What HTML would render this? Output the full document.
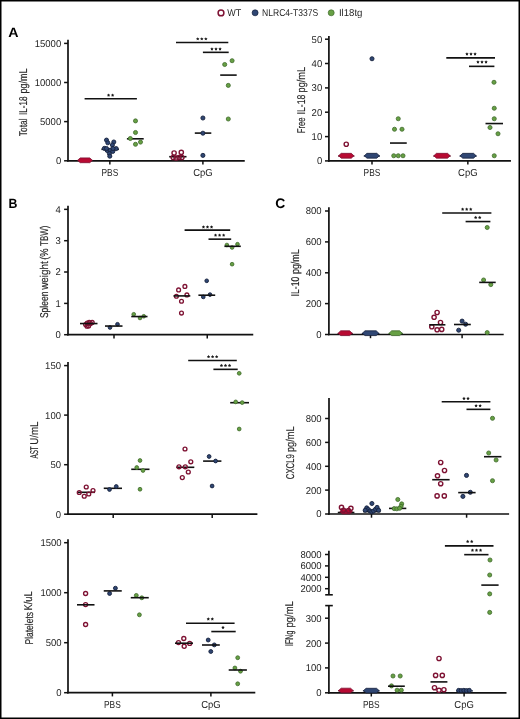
<!DOCTYPE html>
<html><head><meta charset="utf-8"><style>
html,body{margin:0;padding:0;background:#fff;}
svg{display:block;font-family:'Liberation Sans', sans-serif;text-rendering:geometricPrecision;filter:blur(0.3px);}
</style></head><body>
<svg width="520" height="719" viewBox="0 0 520 719">
<rect width="520" height="719" fill="#fff"/>
<line x1="68.00" y1="39.70" x2="68.00" y2="161.60" stroke="#111111" stroke-width="1.7" stroke-linecap="butt"/>
<line x1="67.15" y1="160.80" x2="244.75" y2="160.80" stroke="#111111" stroke-width="1.7" stroke-linecap="butt"/>
<line x1="64.10" y1="43.40" x2="68.00" y2="43.40" stroke="#111111" stroke-width="1.5" stroke-linecap="butt"/>
<text x="61.20" y="46.80" font-size="9.9" text-anchor="end" fill="#262626" textLength="26.5" lengthAdjust="spacingAndGlyphs">15000</text>
<line x1="64.10" y1="82.50" x2="68.00" y2="82.50" stroke="#111111" stroke-width="1.5" stroke-linecap="butt"/>
<text x="61.20" y="85.90" font-size="9.9" text-anchor="end" fill="#262626" textLength="26.5" lengthAdjust="spacingAndGlyphs">10000</text>
<line x1="64.10" y1="121.60" x2="68.00" y2="121.60" stroke="#111111" stroke-width="1.5" stroke-linecap="butt"/>
<text x="61.20" y="125.00" font-size="9.9" text-anchor="end" fill="#262626" textLength="21.2" lengthAdjust="spacingAndGlyphs">5000</text>
<line x1="64.10" y1="160.80" x2="68.00" y2="160.80" stroke="#111111" stroke-width="1.5" stroke-linecap="butt"/>
<text x="61.20" y="164.20" font-size="9.9" text-anchor="end" fill="#262626" textLength="5.3" lengthAdjust="spacingAndGlyphs">0</text>
<line x1="109.85" y1="160.80" x2="109.85" y2="164.50" stroke="#111111" stroke-width="1.5" stroke-linecap="butt"/>
<line x1="202.90" y1="160.80" x2="202.90" y2="164.50" stroke="#111111" stroke-width="1.5" stroke-linecap="butt"/>
<text x="109.85" y="176.20" font-size="10.2" text-anchor="middle" fill="#262626" textLength="16.8" lengthAdjust="spacingAndGlyphs">PBS</text>
<text x="202.90" y="176.20" font-size="10.2" text-anchor="middle" fill="#262626" textLength="19.5" lengthAdjust="spacingAndGlyphs">CpG</text>
<text x="27.40" y="136.18" font-size="11.3" text-anchor="start" fill="#262626" stroke="#262626" stroke-width="0.15" textLength="17.71" lengthAdjust="spacingAndGlyphs" transform="rotate(-90 27.40 136.18)">Total</text>
<text x="27.40" y="115.05" font-size="11.3" text-anchor="start" fill="#262626" stroke="#262626" stroke-width="0.15" textLength="18.61" lengthAdjust="spacingAndGlyphs" transform="rotate(-90 27.40 115.05)">IL-18</text>
<text x="27.40" y="93.38" font-size="11.3" text-anchor="start" fill="#262626" stroke="#262626" stroke-width="0.15" textLength="24.87" lengthAdjust="spacingAndGlyphs" transform="rotate(-90 27.40 93.38)">pg/mL</text>
<line x1="101.40" y1="149.30" x2="118.90" y2="149.30" stroke="#111111" stroke-width="1.6" stroke-linecap="butt"/>
<line x1="126.90" y1="138.80" x2="143.70" y2="138.80" stroke="#111111" stroke-width="1.6" stroke-linecap="butt"/>
<line x1="169.20" y1="156.70" x2="186.50" y2="156.70" stroke="#111111" stroke-width="1.6" stroke-linecap="butt"/>
<line x1="194.80" y1="133.10" x2="211.30" y2="133.10" stroke="#111111" stroke-width="1.6" stroke-linecap="butt"/>
<line x1="220.20" y1="75.10" x2="236.70" y2="75.10" stroke="#111111" stroke-width="1.6" stroke-linecap="butt"/>
<polygon points="77.60,160.30 80.20,157.90 89.80,157.90 92.40,160.30 89.80,162.70 80.20,162.70" fill="#b80a32" stroke="#7e1233" stroke-width="0.8" stroke-linejoin="round"/>
<circle cx="106.50" cy="140.10" r="2.05" fill="#2f4673" stroke="#16213c" stroke-width="0.9"/>
<circle cx="107.80" cy="142.80" r="2.05" fill="#2f4673" stroke="#16213c" stroke-width="0.9"/>
<circle cx="113.80" cy="142.00" r="2.05" fill="#2f4673" stroke="#16213c" stroke-width="0.9"/>
<circle cx="112.40" cy="145.00" r="2.05" fill="#2f4673" stroke="#16213c" stroke-width="0.9"/>
<circle cx="104.40" cy="148.40" r="2.05" fill="#2f4673" stroke="#16213c" stroke-width="0.9"/>
<circle cx="116.20" cy="148.60" r="2.05" fill="#2f4673" stroke="#16213c" stroke-width="0.9"/>
<circle cx="107.20" cy="150.50" r="2.05" fill="#2f4673" stroke="#16213c" stroke-width="0.9"/>
<circle cx="110.20" cy="150.20" r="2.05" fill="#2f4673" stroke="#16213c" stroke-width="0.9"/>
<circle cx="112.80" cy="151.40" r="2.05" fill="#2f4673" stroke="#16213c" stroke-width="0.9"/>
<circle cx="109.40" cy="153.60" r="2.05" fill="#2f4673" stroke="#16213c" stroke-width="0.9"/>
<circle cx="109.80" cy="156.20" r="2.05" fill="#2f4673" stroke="#16213c" stroke-width="0.9"/>
<circle cx="106.50" cy="148.50" r="2.05" fill="#2f4673" stroke="#16213c" stroke-width="0.9"/>
<circle cx="113.00" cy="148.50" r="2.05" fill="#2f4673" stroke="#16213c" stroke-width="0.9"/>
<circle cx="135.50" cy="120.90" r="2.05" fill="#67a044" stroke="#3f6a2c" stroke-width="0.8"/>
<circle cx="135.50" cy="132.50" r="2.05" fill="#67a044" stroke="#3f6a2c" stroke-width="0.8"/>
<circle cx="130.30" cy="138.50" r="2.05" fill="#67a044" stroke="#3f6a2c" stroke-width="0.8"/>
<circle cx="140.50" cy="142.10" r="2.05" fill="#67a044" stroke="#3f6a2c" stroke-width="0.8"/>
<circle cx="135.50" cy="144.30" r="2.05" fill="#67a044" stroke="#3f6a2c" stroke-width="0.8"/>
<circle cx="174.10" cy="153.00" r="2.12" fill="none" stroke="#7e1233" stroke-width="1.40"/>
<circle cx="181.30" cy="152.40" r="2.12" fill="none" stroke="#7e1233" stroke-width="1.40"/>
<circle cx="173.20" cy="157.50" r="2.12" fill="none" stroke="#7e1233" stroke-width="1.40"/>
<circle cx="176.10" cy="158.00" r="2.12" fill="none" stroke="#7e1233" stroke-width="1.40"/>
<circle cx="179.00" cy="157.50" r="2.12" fill="none" stroke="#7e1233" stroke-width="1.40"/>
<circle cx="181.90" cy="157.50" r="2.12" fill="none" stroke="#7e1233" stroke-width="1.40"/>
<circle cx="202.90" cy="118.00" r="2.05" fill="#2f4673" stroke="#16213c" stroke-width="0.9"/>
<circle cx="202.90" cy="133.20" r="2.05" fill="#2f4673" stroke="#16213c" stroke-width="0.9"/>
<circle cx="202.90" cy="155.40" r="2.05" fill="#2f4673" stroke="#16213c" stroke-width="0.9"/>
<circle cx="232.10" cy="60.70" r="2.05" fill="#67a044" stroke="#3f6a2c" stroke-width="0.8"/>
<circle cx="224.70" cy="64.50" r="2.05" fill="#67a044" stroke="#3f6a2c" stroke-width="0.8"/>
<circle cx="228.30" cy="85.40" r="2.05" fill="#67a044" stroke="#3f6a2c" stroke-width="0.8"/>
<circle cx="228.30" cy="119.00" r="2.05" fill="#67a044" stroke="#3f6a2c" stroke-width="0.8"/>
<line x1="84.60" y1="98.75" x2="136.90" y2="98.75" stroke="#111111" stroke-width="1.6" stroke-linecap="butt"/>
<polygon points="108.57,93.45 109.13,94.43 110.24,94.66 109.48,95.49 109.60,96.62 108.57,96.15 107.55,96.62 107.67,95.49 106.91,94.66 108.02,94.43" fill="#1a1a1a"/>
<polygon points="112.62,93.45 113.18,94.43 114.29,94.66 113.53,95.49 113.65,96.62 112.62,96.15 111.60,96.62 111.72,95.49 110.96,94.66 112.07,94.43" fill="#1a1a1a"/>
<line x1="176.00" y1="42.45" x2="228.30" y2="42.45" stroke="#111111" stroke-width="1.6" stroke-linecap="butt"/>
<polygon points="197.75,37.15 198.31,38.13 199.41,38.36 198.65,39.19 198.78,40.32 197.75,39.85 196.72,40.32 196.85,39.19 196.09,38.36 197.19,38.13" fill="#1a1a1a"/>
<polygon points="201.80,37.15 202.36,38.13 203.46,38.36 202.70,39.19 202.83,40.32 201.80,39.85 200.77,40.32 200.90,39.19 200.14,38.36 201.24,38.13" fill="#1a1a1a"/>
<polygon points="205.85,37.15 206.41,38.13 207.51,38.36 206.75,39.19 206.88,40.32 205.85,39.85 204.82,40.32 204.95,39.19 204.19,38.36 205.29,38.13" fill="#1a1a1a"/>
<line x1="202.90" y1="52.35" x2="228.70" y2="52.35" stroke="#111111" stroke-width="1.6" stroke-linecap="butt"/>
<polygon points="211.95,47.25 212.51,48.23 213.61,48.46 212.85,49.29 212.98,50.42 211.95,49.95 210.92,50.42 211.05,49.29 210.29,48.46 211.39,48.23" fill="#1a1a1a"/>
<polygon points="216.00,47.25 216.56,48.23 217.66,48.46 216.90,49.29 217.03,50.42 216.00,49.95 214.97,50.42 215.10,49.29 214.34,48.46 215.44,48.23" fill="#1a1a1a"/>
<polygon points="220.05,47.25 220.61,48.23 221.71,48.46 220.95,49.29 221.08,50.42 220.05,49.95 219.02,50.42 219.15,49.29 218.39,48.46 219.49,48.23" fill="#1a1a1a"/>
<line x1="328.90" y1="36.10" x2="328.90" y2="161.70" stroke="#111111" stroke-width="1.7" stroke-linecap="butt"/>
<line x1="328.05" y1="160.90" x2="510.95" y2="160.90" stroke="#111111" stroke-width="1.7" stroke-linecap="butt"/>
<line x1="325.00" y1="39.20" x2="328.90" y2="39.20" stroke="#111111" stroke-width="1.5" stroke-linecap="butt"/>
<text x="322.20" y="42.60" font-size="9.9" text-anchor="end" fill="#262626" textLength="10.6" lengthAdjust="spacingAndGlyphs">50</text>
<line x1="325.00" y1="63.50" x2="328.90" y2="63.50" stroke="#111111" stroke-width="1.5" stroke-linecap="butt"/>
<text x="322.20" y="66.90" font-size="9.9" text-anchor="end" fill="#262626" textLength="10.6" lengthAdjust="spacingAndGlyphs">40</text>
<line x1="325.00" y1="87.90" x2="328.90" y2="87.90" stroke="#111111" stroke-width="1.5" stroke-linecap="butt"/>
<text x="322.20" y="91.30" font-size="9.9" text-anchor="end" fill="#262626" textLength="10.6" lengthAdjust="spacingAndGlyphs">30</text>
<line x1="325.00" y1="112.20" x2="328.90" y2="112.20" stroke="#111111" stroke-width="1.5" stroke-linecap="butt"/>
<text x="322.20" y="115.60" font-size="9.9" text-anchor="end" fill="#262626" textLength="10.6" lengthAdjust="spacingAndGlyphs">20</text>
<line x1="325.00" y1="136.60" x2="328.90" y2="136.60" stroke="#111111" stroke-width="1.5" stroke-linecap="butt"/>
<text x="322.20" y="140.00" font-size="9.9" text-anchor="end" fill="#262626" textLength="10.6" lengthAdjust="spacingAndGlyphs">10</text>
<line x1="325.00" y1="160.90" x2="328.90" y2="160.90" stroke="#111111" stroke-width="1.5" stroke-linecap="butt"/>
<text x="322.20" y="164.30" font-size="9.9" text-anchor="end" fill="#262626" textLength="5.3" lengthAdjust="spacingAndGlyphs">0</text>
<line x1="372.00" y1="160.90" x2="372.00" y2="164.60" stroke="#111111" stroke-width="1.5" stroke-linecap="butt"/>
<line x1="467.85" y1="160.90" x2="467.85" y2="164.60" stroke="#111111" stroke-width="1.5" stroke-linecap="butt"/>
<text x="372.00" y="176.20" font-size="10.2" text-anchor="middle" fill="#262626" textLength="16.8" lengthAdjust="spacingAndGlyphs">PBS</text>
<text x="467.85" y="176.20" font-size="10.2" text-anchor="middle" fill="#262626" textLength="19.5" lengthAdjust="spacingAndGlyphs">CpG</text>
<text x="304.80" y="133.23" font-size="11.3" text-anchor="start" fill="#262626" stroke="#262626" stroke-width="0.15" textLength="15.77" lengthAdjust="spacingAndGlyphs" transform="rotate(-90 304.80 133.23)">Free</text>
<text x="304.80" y="114.51" font-size="11.3" text-anchor="start" fill="#262626" stroke="#262626" stroke-width="0.15" textLength="19.99" lengthAdjust="spacingAndGlyphs" transform="rotate(-90 304.80 114.51)">IL-18</text>
<text x="304.80" y="92.50" font-size="11.3" text-anchor="start" fill="#262626" stroke="#262626" stroke-width="0.15" textLength="25.7" lengthAdjust="spacingAndGlyphs" transform="rotate(-90 304.80 92.50)">pg/mL</text>
<line x1="338.00" y1="156.05" x2="354.50" y2="156.05" stroke="#5a0a20" stroke-width="1.2" stroke-linecap="butt"/>
<line x1="363.75" y1="156.05" x2="380.00" y2="156.05" stroke="#15203f" stroke-width="1.2" stroke-linecap="butt"/>
<line x1="390.00" y1="143.05" x2="406.75" y2="143.05" stroke="#111111" stroke-width="1.6" stroke-linecap="butt"/>
<line x1="433.25" y1="156.05" x2="450.75" y2="156.05" stroke="#5a0a20" stroke-width="1.2" stroke-linecap="butt"/>
<line x1="459.50" y1="156.05" x2="476.75" y2="156.05" stroke="#15203f" stroke-width="1.2" stroke-linecap="butt"/>
<line x1="485.50" y1="123.55" x2="503.00" y2="123.55" stroke="#111111" stroke-width="1.6" stroke-linecap="butt"/>
<circle cx="346.25" cy="144.25" r="2.12" fill="none" stroke="#7e1233" stroke-width="1.40"/>
<polygon points="338.60,155.75 341.20,153.35 351.30,153.35 353.90,155.75 351.30,158.15 341.20,158.15" fill="#b80a32" stroke="#7e1233" stroke-width="0.8" stroke-linejoin="round"/>
<circle cx="372.00" cy="58.75" r="2.05" fill="#2f4673" stroke="#16213c" stroke-width="0.9"/>
<polygon points="364.35,155.75 366.95,153.35 376.80,153.35 379.40,155.75 376.80,158.15 366.95,158.15" fill="#2f4673" stroke="#16213c" stroke-width="0.8" stroke-linejoin="round"/>
<circle cx="398.25" cy="118.75" r="2.05" fill="#67a044" stroke="#3f6a2c" stroke-width="0.8"/>
<circle cx="394.50" cy="129.25" r="2.05" fill="#67a044" stroke="#3f6a2c" stroke-width="0.8"/>
<circle cx="402.00" cy="129.25" r="2.05" fill="#67a044" stroke="#3f6a2c" stroke-width="0.8"/>
<circle cx="393.75" cy="155.75" r="2.05" fill="#67a044" stroke="#3f6a2c" stroke-width="0.8"/>
<circle cx="398.25" cy="155.75" r="2.05" fill="#67a044" stroke="#3f6a2c" stroke-width="0.8"/>
<circle cx="403.00" cy="155.75" r="2.05" fill="#67a044" stroke="#3f6a2c" stroke-width="0.8"/>
<polygon points="433.85,155.75 436.45,153.35 447.55,153.35 450.15,155.75 447.55,158.15 436.45,158.15" fill="#b80a32" stroke="#7e1233" stroke-width="0.8" stroke-linejoin="round"/>
<polygon points="460.10,155.75 462.70,153.35 473.55,153.35 476.15,155.75 473.55,158.15 462.70,158.15" fill="#2f4673" stroke="#16213c" stroke-width="0.8" stroke-linejoin="round"/>
<circle cx="494.00" cy="82.30" r="2.05" fill="#67a044" stroke="#3f6a2c" stroke-width="0.8"/>
<circle cx="494.25" cy="108.25" r="2.05" fill="#67a044" stroke="#3f6a2c" stroke-width="0.8"/>
<circle cx="494.25" cy="118.75" r="2.05" fill="#67a044" stroke="#3f6a2c" stroke-width="0.8"/>
<circle cx="490.00" cy="127.50" r="2.05" fill="#67a044" stroke="#3f6a2c" stroke-width="0.8"/>
<circle cx="498.00" cy="133.75" r="2.05" fill="#67a044" stroke="#3f6a2c" stroke-width="0.8"/>
<circle cx="494.25" cy="155.75" r="2.05" fill="#67a044" stroke="#3f6a2c" stroke-width="0.8"/>
<line x1="446.30" y1="57.85" x2="495.00" y2="57.85" stroke="#111111" stroke-width="1.6" stroke-linecap="butt"/>
<polygon points="466.95,52.25 467.51,53.23 468.61,53.46 467.85,54.29 467.98,55.42 466.95,54.95 465.92,55.42 466.05,54.29 465.29,53.46 466.39,53.23" fill="#1a1a1a"/>
<polygon points="471.00,52.25 471.56,53.23 472.66,53.46 471.90,54.29 472.03,55.42 471.00,54.95 469.97,55.42 470.10,54.29 469.34,53.46 470.44,53.23" fill="#1a1a1a"/>
<polygon points="475.05,52.25 475.61,53.23 476.71,53.46 475.95,54.29 476.08,55.42 475.05,54.95 474.02,55.42 474.15,54.29 473.39,53.46 474.49,53.23" fill="#1a1a1a"/>
<line x1="469.00" y1="66.35" x2="494.40" y2="66.35" stroke="#111111" stroke-width="1.6" stroke-linecap="butt"/>
<polygon points="477.95,60.25 478.51,61.23 479.61,61.46 478.85,62.29 478.98,63.42 477.95,62.95 476.92,63.42 477.05,62.29 476.29,61.46 477.39,61.23" fill="#1a1a1a"/>
<polygon points="482.00,60.25 482.56,61.23 483.66,61.46 482.90,62.29 483.03,63.42 482.00,62.95 480.97,63.42 481.10,62.29 480.34,61.46 481.44,61.23" fill="#1a1a1a"/>
<polygon points="486.05,60.25 486.61,61.23 487.71,61.46 486.95,62.29 487.08,63.42 486.05,62.95 485.02,63.42 485.15,62.29 484.39,61.46 485.49,61.23" fill="#1a1a1a"/>
<line x1="68.00" y1="205.80" x2="68.00" y2="335.50" stroke="#111111" stroke-width="1.7" stroke-linecap="butt"/>
<line x1="67.15" y1="334.70" x2="253.25" y2="334.70" stroke="#111111" stroke-width="1.7" stroke-linecap="butt"/>
<line x1="64.10" y1="209.35" x2="68.00" y2="209.35" stroke="#111111" stroke-width="1.5" stroke-linecap="butt"/>
<text x="60.80" y="212.75" font-size="9.9" text-anchor="end" fill="#262626" textLength="5.3" lengthAdjust="spacingAndGlyphs">4</text>
<line x1="64.10" y1="240.70" x2="68.00" y2="240.70" stroke="#111111" stroke-width="1.5" stroke-linecap="butt"/>
<text x="60.80" y="244.10" font-size="9.9" text-anchor="end" fill="#262626" textLength="5.3" lengthAdjust="spacingAndGlyphs">3</text>
<line x1="64.10" y1="272.00" x2="68.00" y2="272.00" stroke="#111111" stroke-width="1.5" stroke-linecap="butt"/>
<text x="60.80" y="275.40" font-size="9.9" text-anchor="end" fill="#262626" textLength="5.3" lengthAdjust="spacingAndGlyphs">2</text>
<line x1="64.10" y1="303.40" x2="68.00" y2="303.40" stroke="#111111" stroke-width="1.5" stroke-linecap="butt"/>
<text x="60.80" y="306.80" font-size="9.9" text-anchor="end" fill="#262626" textLength="5.3" lengthAdjust="spacingAndGlyphs">1</text>
<line x1="64.10" y1="334.70" x2="68.00" y2="334.70" stroke="#111111" stroke-width="1.5" stroke-linecap="butt"/>
<text x="60.80" y="338.10" font-size="9.9" text-anchor="end" fill="#262626" textLength="5.3" lengthAdjust="spacingAndGlyphs">0</text>
<line x1="114.00" y1="334.70" x2="114.00" y2="338.40" stroke="#111111" stroke-width="1.5" stroke-linecap="butt"/>
<line x1="207.25" y1="334.70" x2="207.25" y2="338.40" stroke="#111111" stroke-width="1.5" stroke-linecap="butt"/>
<text x="48.40" y="318.09" font-size="11.3" text-anchor="start" fill="#262626" stroke="#262626" stroke-width="0.15" textLength="26.54" lengthAdjust="spacingAndGlyphs" transform="rotate(-90 48.40 318.09)">Spleen</text>
<text x="48.40" y="289.79" font-size="11.3" text-anchor="start" fill="#262626" stroke="#262626" stroke-width="0.15" textLength="28.46" lengthAdjust="spacingAndGlyphs" transform="rotate(-90 48.40 289.79)">weight</text>
<text x="48.40" y="259.78" font-size="11.3" text-anchor="start" fill="#262626" stroke="#262626" stroke-width="0.15" textLength="11.52" lengthAdjust="spacingAndGlyphs" transform="rotate(-90 48.40 259.78)">(%</text>
<text x="48.40" y="245.88" font-size="11.3" text-anchor="start" fill="#262626" stroke="#262626" stroke-width="0.15" textLength="20.27" lengthAdjust="spacingAndGlyphs" transform="rotate(-90 48.40 245.88)">TBW)</text>
<circle cx="85.60" cy="324.60" r="1.91" fill="none" stroke="#7e1233" stroke-width="1.33"/>
<circle cx="87.20" cy="323.00" r="1.91" fill="none" stroke="#7e1233" stroke-width="1.33"/>
<circle cx="88.60" cy="326.00" r="1.91" fill="none" stroke="#7e1233" stroke-width="1.33"/>
<circle cx="90.60" cy="323.60" r="1.91" fill="none" stroke="#7e1233" stroke-width="1.33"/>
<circle cx="92.20" cy="322.40" r="1.91" fill="none" stroke="#7e1233" stroke-width="1.33"/>
<circle cx="89.20" cy="322.20" r="1.91" fill="none" stroke="#7e1233" stroke-width="1.33"/>
<circle cx="87.00" cy="326.20" r="1.91" fill="none" stroke="#7e1233" stroke-width="1.33"/>
<line x1="80.00" y1="323.55" x2="97.50" y2="323.55" stroke="#111111" stroke-width="1.6" stroke-linecap="butt"/>
<circle cx="110.00" cy="327.50" r="1.84" fill="#2f4673" stroke="#16213c" stroke-width="0.9"/>
<circle cx="117.50" cy="324.25" r="1.84" fill="#2f4673" stroke="#16213c" stroke-width="0.9"/>
<line x1="105.00" y1="326.05" x2="122.50" y2="326.05" stroke="#111111" stroke-width="1.6" stroke-linecap="butt"/>
<circle cx="133.75" cy="314.25" r="1.84" fill="#67a044" stroke="#3f6a2c" stroke-width="0.8"/>
<circle cx="140.00" cy="318.00" r="1.84" fill="#67a044" stroke="#3f6a2c" stroke-width="0.8"/>
<circle cx="143.75" cy="316.25" r="1.84" fill="#67a044" stroke="#3f6a2c" stroke-width="0.8"/>
<line x1="131.25" y1="316.55" x2="147.50" y2="316.55" stroke="#111111" stroke-width="1.6" stroke-linecap="butt"/>
<circle cx="184.90" cy="286.40" r="1.91" fill="none" stroke="#7e1233" stroke-width="1.33"/>
<circle cx="178.60" cy="289.90" r="1.91" fill="none" stroke="#7e1233" stroke-width="1.33"/>
<circle cx="176.40" cy="296.20" r="1.91" fill="none" stroke="#7e1233" stroke-width="1.33"/>
<circle cx="186.90" cy="294.90" r="1.91" fill="none" stroke="#7e1233" stroke-width="1.33"/>
<circle cx="181.50" cy="301.20" r="1.91" fill="none" stroke="#7e1233" stroke-width="1.33"/>
<circle cx="181.50" cy="313.10" r="1.91" fill="none" stroke="#7e1233" stroke-width="1.33"/>
<line x1="173.50" y1="295.90" x2="190.30" y2="295.90" stroke="#111111" stroke-width="1.6" stroke-linecap="butt"/>
<circle cx="206.70" cy="280.80" r="1.84" fill="#2f4673" stroke="#16213c" stroke-width="0.9"/>
<circle cx="203.30" cy="296.90" r="1.84" fill="#2f4673" stroke="#16213c" stroke-width="0.9"/>
<circle cx="210.00" cy="294.60" r="1.84" fill="#2f4673" stroke="#16213c" stroke-width="0.9"/>
<line x1="198.40" y1="295.20" x2="215.20" y2="295.20" stroke="#111111" stroke-width="1.6" stroke-linecap="butt"/>
<circle cx="226.90" cy="245.00" r="1.84" fill="#67a044" stroke="#3f6a2c" stroke-width="0.8"/>
<circle cx="232.10" cy="247.50" r="1.84" fill="#67a044" stroke="#3f6a2c" stroke-width="0.8"/>
<circle cx="237.50" cy="244.20" r="1.84" fill="#67a044" stroke="#3f6a2c" stroke-width="0.8"/>
<circle cx="232.10" cy="264.20" r="1.84" fill="#67a044" stroke="#3f6a2c" stroke-width="0.8"/>
<line x1="224.40" y1="246.30" x2="240.80" y2="246.30" stroke="#111111" stroke-width="1.6" stroke-linecap="butt"/>
<line x1="184.60" y1="230.15" x2="230.20" y2="230.15" stroke="#111111" stroke-width="1.6" stroke-linecap="butt"/>
<polygon points="203.45,225.25 204.01,226.23 205.11,226.46 204.35,227.29 204.48,228.42 203.45,227.95 202.42,228.42 202.55,227.29 201.79,226.46 202.89,226.23" fill="#1a1a1a"/>
<polygon points="207.50,225.25 208.06,226.23 209.16,226.46 208.40,227.29 208.53,228.42 207.50,227.95 206.47,228.42 206.60,227.29 205.84,226.46 206.94,226.23" fill="#1a1a1a"/>
<polygon points="211.55,225.25 212.11,226.23 213.21,226.46 212.45,227.29 212.58,228.42 211.55,227.95 210.52,228.42 210.65,227.29 209.89,226.46 210.99,226.23" fill="#1a1a1a"/>
<line x1="208.50" y1="239.15" x2="231.20" y2="239.15" stroke="#111111" stroke-width="1.6" stroke-linecap="butt"/>
<polygon points="215.55,233.45 216.11,234.43 217.21,234.66 216.45,235.49 216.58,236.62 215.55,236.15 214.52,236.62 214.65,235.49 213.89,234.66 214.99,234.43" fill="#1a1a1a"/>
<polygon points="219.60,233.45 220.16,234.43 221.26,234.66 220.50,235.49 220.63,236.62 219.60,236.15 218.57,236.62 218.70,235.49 217.94,234.66 219.04,234.43" fill="#1a1a1a"/>
<polygon points="223.65,233.45 224.21,234.43 225.31,234.66 224.55,235.49 224.68,236.62 223.65,236.15 222.62,236.62 222.75,235.49 221.99,234.66 223.09,234.43" fill="#1a1a1a"/>
<line x1="68.00" y1="362.10" x2="68.00" y2="515.00" stroke="#111111" stroke-width="1.7" stroke-linecap="butt"/>
<line x1="67.15" y1="514.20" x2="257.40" y2="514.20" stroke="#111111" stroke-width="1.7" stroke-linecap="butt"/>
<line x1="64.10" y1="365.60" x2="68.00" y2="365.60" stroke="#111111" stroke-width="1.5" stroke-linecap="butt"/>
<text x="61.00" y="369.00" font-size="9.9" text-anchor="end" fill="#262626" textLength="15.9" lengthAdjust="spacingAndGlyphs">150</text>
<line x1="64.10" y1="415.10" x2="68.00" y2="415.10" stroke="#111111" stroke-width="1.5" stroke-linecap="butt"/>
<text x="61.00" y="418.50" font-size="9.9" text-anchor="end" fill="#262626" textLength="15.9" lengthAdjust="spacingAndGlyphs">100</text>
<line x1="64.10" y1="464.70" x2="68.00" y2="464.70" stroke="#111111" stroke-width="1.5" stroke-linecap="butt"/>
<text x="61.00" y="468.10" font-size="9.9" text-anchor="end" fill="#262626" textLength="10.6" lengthAdjust="spacingAndGlyphs">50</text>
<line x1="64.10" y1="514.20" x2="68.00" y2="514.20" stroke="#111111" stroke-width="1.5" stroke-linecap="butt"/>
<text x="61.00" y="517.60" font-size="9.9" text-anchor="end" fill="#262626" textLength="5.3" lengthAdjust="spacingAndGlyphs">0</text>
<line x1="113.20" y1="514.20" x2="113.20" y2="517.90" stroke="#111111" stroke-width="1.5" stroke-linecap="butt"/>
<line x1="212.20" y1="514.20" x2="212.20" y2="517.90" stroke="#111111" stroke-width="1.5" stroke-linecap="butt"/>
<text x="37.90" y="458.51" font-size="11.3" text-anchor="start" fill="#262626" stroke="#262626" stroke-width="0.15" textLength="12.16" lengthAdjust="spacingAndGlyphs" transform="rotate(-90 37.90 458.51)">AST</text>
<text x="37.90" y="444.85" font-size="11.3" text-anchor="start" fill="#262626" stroke="#262626" stroke-width="0.15" textLength="23.38" lengthAdjust="spacingAndGlyphs" transform="rotate(-90 37.90 444.85)">U/mL</text>
<line x1="77.50" y1="492.30" x2="95.00" y2="492.30" stroke="#111111" stroke-width="1.6" stroke-linecap="butt"/>
<line x1="103.75" y1="488.30" x2="122.00" y2="488.30" stroke="#111111" stroke-width="1.6" stroke-linecap="butt"/>
<line x1="131.25" y1="469.30" x2="149.50" y2="469.30" stroke="#111111" stroke-width="1.6" stroke-linecap="butt"/>
<line x1="176.30" y1="467.30" x2="194.30" y2="467.30" stroke="#111111" stroke-width="1.6" stroke-linecap="butt"/>
<line x1="203.10" y1="461.10" x2="221.40" y2="461.10" stroke="#111111" stroke-width="1.6" stroke-linecap="butt"/>
<line x1="230.20" y1="402.70" x2="249.00" y2="402.70" stroke="#111111" stroke-width="1.6" stroke-linecap="butt"/>
<circle cx="86.25" cy="487.00" r="1.95" fill="none" stroke="#7e1233" stroke-width="1.34"/>
<circle cx="79.25" cy="492.50" r="1.95" fill="none" stroke="#7e1233" stroke-width="1.34"/>
<circle cx="84.25" cy="496.25" r="1.95" fill="none" stroke="#7e1233" stroke-width="1.34"/>
<circle cx="88.75" cy="494.00" r="1.95" fill="none" stroke="#7e1233" stroke-width="1.34"/>
<circle cx="93.00" cy="490.50" r="1.95" fill="none" stroke="#7e1233" stroke-width="1.34"/>
<circle cx="109.50" cy="489.50" r="1.89" fill="#2f4673" stroke="#16213c" stroke-width="0.9"/>
<circle cx="116.25" cy="486.50" r="1.89" fill="#2f4673" stroke="#16213c" stroke-width="0.9"/>
<circle cx="140.00" cy="460.50" r="1.89" fill="#67a044" stroke="#3f6a2c" stroke-width="0.8"/>
<circle cx="136.75" cy="467.50" r="1.89" fill="#67a044" stroke="#3f6a2c" stroke-width="0.8"/>
<circle cx="143.00" cy="470.50" r="1.89" fill="#67a044" stroke="#3f6a2c" stroke-width="0.8"/>
<circle cx="140.00" cy="489.25" r="1.89" fill="#67a044" stroke="#3f6a2c" stroke-width="0.8"/>
<circle cx="185.00" cy="449.00" r="1.95" fill="none" stroke="#7e1233" stroke-width="1.34"/>
<circle cx="190.80" cy="461.80" r="1.95" fill="none" stroke="#7e1233" stroke-width="1.34"/>
<circle cx="179.00" cy="466.80" r="1.95" fill="none" stroke="#7e1233" stroke-width="1.34"/>
<circle cx="185.30" cy="466.80" r="1.95" fill="none" stroke="#7e1233" stroke-width="1.34"/>
<circle cx="188.30" cy="472.00" r="1.95" fill="none" stroke="#7e1233" stroke-width="1.34"/>
<circle cx="182.30" cy="477.60" r="1.95" fill="none" stroke="#7e1233" stroke-width="1.34"/>
<circle cx="209.10" cy="456.50" r="1.89" fill="#2f4673" stroke="#16213c" stroke-width="0.9"/>
<circle cx="215.60" cy="461.00" r="1.89" fill="#2f4673" stroke="#16213c" stroke-width="0.9"/>
<circle cx="212.10" cy="486.00" r="1.89" fill="#2f4673" stroke="#16213c" stroke-width="0.9"/>
<circle cx="239.20" cy="373.30" r="1.89" fill="#67a044" stroke="#3f6a2c" stroke-width="0.8"/>
<circle cx="235.70" cy="401.90" r="1.89" fill="#67a044" stroke="#3f6a2c" stroke-width="0.8"/>
<circle cx="242.20" cy="402.60" r="1.89" fill="#67a044" stroke="#3f6a2c" stroke-width="0.8"/>
<circle cx="239.20" cy="429.00" r="1.89" fill="#67a044" stroke="#3f6a2c" stroke-width="0.8"/>
<line x1="188.20" y1="360.55" x2="236.80" y2="360.55" stroke="#111111" stroke-width="1.6" stroke-linecap="butt"/>
<polygon points="208.55,354.95 209.11,355.93 210.21,356.16 209.45,356.99 209.58,358.12 208.55,357.65 207.52,358.12 207.65,356.99 206.89,356.16 207.99,355.93" fill="#1a1a1a"/>
<polygon points="212.60,354.95 213.16,355.93 214.26,356.16 213.50,356.99 213.63,358.12 212.60,357.65 211.57,358.12 211.70,356.99 210.94,356.16 212.04,355.93" fill="#1a1a1a"/>
<polygon points="216.65,354.95 217.21,355.93 218.31,356.16 217.55,356.99 217.68,358.12 216.65,357.65 215.62,358.12 215.75,356.99 214.99,356.16 216.09,355.93" fill="#1a1a1a"/>
<line x1="213.40" y1="369.35" x2="237.70" y2="369.35" stroke="#111111" stroke-width="1.6" stroke-linecap="butt"/>
<polygon points="221.45,363.85 222.01,364.83 223.11,365.06 222.35,365.89 222.48,367.02 221.45,366.55 220.42,367.02 220.55,365.89 219.79,365.06 220.89,364.83" fill="#1a1a1a"/>
<polygon points="225.50,363.85 226.06,364.83 227.16,365.06 226.40,365.89 226.53,367.02 225.50,366.55 224.47,367.02 224.60,365.89 223.84,365.06 224.94,364.83" fill="#1a1a1a"/>
<polygon points="229.55,363.85 230.11,364.83 231.21,365.06 230.45,365.89 230.58,367.02 229.55,366.55 228.52,367.02 228.65,365.89 227.89,365.06 228.99,364.83" fill="#1a1a1a"/>
<line x1="68.00" y1="539.30" x2="68.00" y2="693.50" stroke="#111111" stroke-width="1.7" stroke-linecap="butt"/>
<line x1="67.15" y1="692.70" x2="255.30" y2="692.70" stroke="#111111" stroke-width="1.7" stroke-linecap="butt"/>
<line x1="64.10" y1="542.70" x2="68.00" y2="542.70" stroke="#111111" stroke-width="1.5" stroke-linecap="butt"/>
<text x="61.60" y="546.10" font-size="9.9" text-anchor="end" fill="#262626" textLength="21.2" lengthAdjust="spacingAndGlyphs">1500</text>
<line x1="64.10" y1="592.70" x2="68.00" y2="592.70" stroke="#111111" stroke-width="1.5" stroke-linecap="butt"/>
<text x="61.60" y="596.10" font-size="9.9" text-anchor="end" fill="#262626" textLength="21.2" lengthAdjust="spacingAndGlyphs">1000</text>
<line x1="64.10" y1="642.70" x2="68.00" y2="642.70" stroke="#111111" stroke-width="1.5" stroke-linecap="butt"/>
<text x="61.60" y="646.10" font-size="9.9" text-anchor="end" fill="#262626" textLength="15.9" lengthAdjust="spacingAndGlyphs">500</text>
<line x1="64.10" y1="692.70" x2="68.00" y2="692.70" stroke="#111111" stroke-width="1.5" stroke-linecap="butt"/>
<text x="61.60" y="696.10" font-size="9.9" text-anchor="end" fill="#262626" textLength="5.3" lengthAdjust="spacingAndGlyphs">0</text>
<line x1="112.40" y1="692.70" x2="112.40" y2="696.40" stroke="#111111" stroke-width="1.5" stroke-linecap="butt"/>
<line x1="210.90" y1="692.70" x2="210.90" y2="696.40" stroke="#111111" stroke-width="1.5" stroke-linecap="butt"/>
<text x="112.40" y="708.40" font-size="10.2" text-anchor="middle" fill="#262626" textLength="16.8" lengthAdjust="spacingAndGlyphs">PBS</text>
<text x="210.90" y="708.40" font-size="10.2" text-anchor="middle" fill="#262626" textLength="19.5" lengthAdjust="spacingAndGlyphs">CpG</text>
<text x="32.50" y="644.50" font-size="11.3" text-anchor="start" fill="#262626" stroke="#262626" stroke-width="0.15" textLength="32.5" lengthAdjust="spacingAndGlyphs" transform="rotate(-90 32.50 644.50)">Platelets</text>
<text x="32.50" y="610.46" font-size="11.3" text-anchor="start" fill="#262626" stroke="#262626" stroke-width="0.15" textLength="19.17" lengthAdjust="spacingAndGlyphs" transform="rotate(-90 32.50 610.46)">K/uL</text>
<circle cx="85.60" cy="593.50" r="2.01" fill="none" stroke="#7e1233" stroke-width="1.36"/>
<circle cx="85.60" cy="604.60" r="2.01" fill="none" stroke="#7e1233" stroke-width="1.36"/>
<circle cx="85.60" cy="624.50" r="2.01" fill="none" stroke="#7e1233" stroke-width="1.36"/>
<line x1="77.00" y1="604.80" x2="94.50" y2="604.80" stroke="#111111" stroke-width="1.6" stroke-linecap="butt"/>
<circle cx="109.60" cy="593.50" r="1.95" fill="#2f4673" stroke="#16213c" stroke-width="0.9"/>
<circle cx="115.40" cy="588.20" r="1.95" fill="#2f4673" stroke="#16213c" stroke-width="0.9"/>
<line x1="103.75" y1="590.90" x2="121.75" y2="590.90" stroke="#111111" stroke-width="1.6" stroke-linecap="butt"/>
<circle cx="136.30" cy="595.40" r="1.95" fill="#67a044" stroke="#3f6a2c" stroke-width="0.8"/>
<circle cx="141.80" cy="597.80" r="1.95" fill="#67a044" stroke="#3f6a2c" stroke-width="0.8"/>
<circle cx="139.40" cy="614.80" r="1.95" fill="#67a044" stroke="#3f6a2c" stroke-width="0.8"/>
<line x1="130.75" y1="597.70" x2="148.75" y2="597.70" stroke="#111111" stroke-width="1.6" stroke-linecap="butt"/>
<circle cx="183.80" cy="638.50" r="2.01" fill="none" stroke="#7e1233" stroke-width="1.36"/>
<circle cx="178.50" cy="642.60" r="2.01" fill="none" stroke="#7e1233" stroke-width="1.36"/>
<circle cx="189.70" cy="643.40" r="2.01" fill="none" stroke="#7e1233" stroke-width="1.36"/>
<circle cx="184.20" cy="646.30" r="2.01" fill="none" stroke="#7e1233" stroke-width="1.36"/>
<line x1="175.00" y1="643.20" x2="193.00" y2="643.20" stroke="#111111" stroke-width="1.6" stroke-linecap="butt"/>
<circle cx="208.20" cy="640.00" r="1.95" fill="#2f4673" stroke="#16213c" stroke-width="0.9"/>
<circle cx="214.30" cy="644.90" r="1.95" fill="#2f4673" stroke="#16213c" stroke-width="0.9"/>
<circle cx="210.80" cy="651.50" r="1.95" fill="#2f4673" stroke="#16213c" stroke-width="0.9"/>
<line x1="202.00" y1="645.00" x2="219.80" y2="645.00" stroke="#111111" stroke-width="1.6" stroke-linecap="butt"/>
<circle cx="237.70" cy="657.70" r="1.95" fill="#67a044" stroke="#3f6a2c" stroke-width="0.8"/>
<circle cx="234.90" cy="668.00" r="1.95" fill="#67a044" stroke="#3f6a2c" stroke-width="0.8"/>
<circle cx="240.50" cy="671.20" r="1.95" fill="#67a044" stroke="#3f6a2c" stroke-width="0.8"/>
<circle cx="237.70" cy="683.80" r="1.95" fill="#67a044" stroke="#3f6a2c" stroke-width="0.8"/>
<line x1="228.70" y1="670.00" x2="246.90" y2="670.00" stroke="#111111" stroke-width="1.6" stroke-linecap="butt"/>
<line x1="186.00" y1="623.25" x2="234.60" y2="623.25" stroke="#111111" stroke-width="1.6" stroke-linecap="butt"/>
<polygon points="208.28,617.25 208.83,618.23 209.94,618.46 209.18,619.29 209.30,620.42 208.28,619.95 207.25,620.42 207.37,619.29 206.61,618.46 207.72,618.23" fill="#1a1a1a"/>
<polygon points="212.33,617.25 212.88,618.23 213.99,618.46 213.23,619.29 213.35,620.42 212.33,619.95 211.30,620.42 211.42,619.29 210.66,618.46 211.77,618.23" fill="#1a1a1a"/>
<line x1="211.30" y1="631.55" x2="235.70" y2="631.55" stroke="#111111" stroke-width="1.6" stroke-linecap="butt"/>
<polygon points="223.00,625.85 223.56,626.83 224.66,627.06 223.90,627.89 224.03,629.02 223.00,628.55 221.97,629.02 222.10,627.89 221.34,627.06 222.44,626.83" fill="#1a1a1a"/>
<line x1="328.90" y1="207.30" x2="328.90" y2="335.30" stroke="#111111" stroke-width="1.7" stroke-linecap="butt"/>
<line x1="328.05" y1="334.50" x2="503.70" y2="334.50" stroke="#111111" stroke-width="1.7" stroke-linecap="butt"/>
<line x1="325.00" y1="211.00" x2="328.90" y2="211.00" stroke="#111111" stroke-width="1.5" stroke-linecap="butt"/>
<text x="321.60" y="214.40" font-size="9.9" text-anchor="end" fill="#262626" textLength="15.9" lengthAdjust="spacingAndGlyphs">800</text>
<line x1="325.00" y1="241.90" x2="328.90" y2="241.90" stroke="#111111" stroke-width="1.5" stroke-linecap="butt"/>
<text x="321.60" y="245.30" font-size="9.9" text-anchor="end" fill="#262626" textLength="15.9" lengthAdjust="spacingAndGlyphs">600</text>
<line x1="325.00" y1="272.80" x2="328.90" y2="272.80" stroke="#111111" stroke-width="1.5" stroke-linecap="butt"/>
<text x="321.60" y="276.20" font-size="9.9" text-anchor="end" fill="#262626" textLength="15.9" lengthAdjust="spacingAndGlyphs">400</text>
<line x1="325.00" y1="303.60" x2="328.90" y2="303.60" stroke="#111111" stroke-width="1.5" stroke-linecap="butt"/>
<text x="321.60" y="307.00" font-size="9.9" text-anchor="end" fill="#262626" textLength="15.9" lengthAdjust="spacingAndGlyphs">200</text>
<line x1="325.00" y1="334.50" x2="328.90" y2="334.50" stroke="#111111" stroke-width="1.5" stroke-linecap="butt"/>
<text x="321.60" y="337.90" font-size="9.9" text-anchor="end" fill="#262626" textLength="5.3" lengthAdjust="spacingAndGlyphs">0</text>
<line x1="370.50" y1="334.50" x2="370.50" y2="338.20" stroke="#111111" stroke-width="1.5" stroke-linecap="butt"/>
<line x1="462.10" y1="334.50" x2="462.10" y2="338.20" stroke="#111111" stroke-width="1.5" stroke-linecap="butt"/>
<text x="298.65" y="296.39" font-size="11.3" text-anchor="start" fill="#262626" stroke="#262626" stroke-width="0.15" textLength="19.63" lengthAdjust="spacingAndGlyphs" transform="rotate(-90 298.65 296.39)">IL-10</text>
<text x="298.65" y="274.08" font-size="11.3" text-anchor="start" fill="#262626" stroke="#262626" stroke-width="0.15" textLength="24.87" lengthAdjust="spacingAndGlyphs" transform="rotate(-90 298.65 274.08)">pg/mL</text>
<line x1="337.50" y1="333.50" x2="352.80" y2="333.50" stroke="#5a0a20" stroke-width="1.2" stroke-linecap="butt"/>
<line x1="361.80" y1="333.50" x2="379.40" y2="333.50" stroke="#15203f" stroke-width="1.2" stroke-linecap="butt"/>
<line x1="388.50" y1="333.50" x2="402.80" y2="333.50" stroke="#2e5a1e" stroke-width="1.2" stroke-linecap="butt"/>
<polygon points="338.10,333.20 340.70,330.80 349.60,330.80 352.20,333.20 349.60,335.60 340.70,335.60" fill="#b80a32" stroke="#7e1233" stroke-width="0.8" stroke-linejoin="round"/>
<polygon points="362.40,333.20 365.00,330.80 376.20,330.80 378.80,333.20 376.20,335.60 365.00,335.60" fill="#2f4673" stroke="#16213c" stroke-width="0.8" stroke-linejoin="round"/>
<polygon points="389.10,333.20 391.70,330.80 399.60,330.80 402.20,333.20 399.60,335.60 391.70,335.60" fill="#67a044" stroke="#3f6a2c" stroke-width="0.8" stroke-linejoin="round"/>
<circle cx="437.10" cy="312.50" r="2.12" fill="none" stroke="#7e1233" stroke-width="1.40"/>
<circle cx="434.10" cy="317.30" r="2.12" fill="none" stroke="#7e1233" stroke-width="1.40"/>
<circle cx="440.50" cy="322.50" r="2.12" fill="none" stroke="#7e1233" stroke-width="1.40"/>
<circle cx="431.80" cy="326.80" r="2.12" fill="none" stroke="#7e1233" stroke-width="1.40"/>
<circle cx="437.10" cy="329.80" r="2.12" fill="none" stroke="#7e1233" stroke-width="1.40"/>
<circle cx="441.70" cy="329.40" r="2.12" fill="none" stroke="#7e1233" stroke-width="1.40"/>
<line x1="429.20" y1="324.80" x2="445.40" y2="324.80" stroke="#111111" stroke-width="1.6" stroke-linecap="butt"/>
<circle cx="462.10" cy="321.10" r="2.05" fill="#2f4673" stroke="#16213c" stroke-width="0.9"/>
<circle cx="465.60" cy="324.20" r="2.05" fill="#2f4673" stroke="#16213c" stroke-width="0.9"/>
<circle cx="458.70" cy="330.20" r="2.05" fill="#2f4673" stroke="#16213c" stroke-width="0.9"/>
<line x1="454.00" y1="324.50" x2="470.80" y2="324.50" stroke="#111111" stroke-width="1.6" stroke-linecap="butt"/>
<circle cx="487.20" cy="227.50" r="2.05" fill="#67a044" stroke="#3f6a2c" stroke-width="0.8"/>
<circle cx="483.60" cy="280.00" r="2.05" fill="#67a044" stroke="#3f6a2c" stroke-width="0.8"/>
<circle cx="490.80" cy="284.60" r="2.05" fill="#67a044" stroke="#3f6a2c" stroke-width="0.8"/>
<circle cx="487.20" cy="332.60" r="2.05" fill="#67a044" stroke="#3f6a2c" stroke-width="0.8"/>
<line x1="479.20" y1="282.40" x2="495.70" y2="282.40" stroke="#111111" stroke-width="1.6" stroke-linecap="butt"/>
<line x1="442.20" y1="213.05" x2="491.40" y2="213.05" stroke="#111111" stroke-width="1.6" stroke-linecap="butt"/>
<polygon points="462.65,207.55 463.21,208.53 464.31,208.76 463.55,209.59 463.68,210.72 462.65,210.25 461.62,210.72 461.75,209.59 460.99,208.76 462.09,208.53" fill="#1a1a1a"/>
<polygon points="466.70,207.55 467.26,208.53 468.36,208.76 467.60,209.59 467.73,210.72 466.70,210.25 465.67,210.72 465.80,209.59 465.04,208.76 466.14,208.53" fill="#1a1a1a"/>
<polygon points="470.75,207.55 471.31,208.53 472.41,208.76 471.65,209.59 471.78,210.72 470.75,210.25 469.72,210.72 469.85,209.59 469.09,208.76 470.19,208.53" fill="#1a1a1a"/>
<line x1="465.60" y1="221.55" x2="490.40" y2="221.55" stroke="#111111" stroke-width="1.6" stroke-linecap="butt"/>
<polygon points="475.68,215.85 476.23,216.83 477.34,217.06 476.58,217.89 476.70,219.02 475.68,218.55 474.65,219.02 474.77,217.89 474.01,217.06 475.12,216.83" fill="#1a1a1a"/>
<polygon points="479.73,215.85 480.28,216.83 481.39,217.06 480.63,217.89 480.75,219.02 479.73,218.55 478.70,219.02 478.82,217.89 478.06,217.06 479.17,216.83" fill="#1a1a1a"/>
<line x1="329.00" y1="398.10" x2="329.00" y2="514.80" stroke="#111111" stroke-width="1.7" stroke-linecap="butt"/>
<line x1="328.15" y1="514.00" x2="509.10" y2="514.00" stroke="#111111" stroke-width="1.7" stroke-linecap="butt"/>
<line x1="325.10" y1="418.50" x2="329.00" y2="418.50" stroke="#111111" stroke-width="1.5" stroke-linecap="butt"/>
<text x="321.60" y="421.90" font-size="9.9" text-anchor="end" fill="#262626" textLength="15.9" lengthAdjust="spacingAndGlyphs">800</text>
<line x1="325.10" y1="442.40" x2="329.00" y2="442.40" stroke="#111111" stroke-width="1.5" stroke-linecap="butt"/>
<text x="321.60" y="445.80" font-size="9.9" text-anchor="end" fill="#262626" textLength="15.9" lengthAdjust="spacingAndGlyphs">600</text>
<line x1="325.10" y1="466.30" x2="329.00" y2="466.30" stroke="#111111" stroke-width="1.5" stroke-linecap="butt"/>
<text x="321.60" y="469.70" font-size="9.9" text-anchor="end" fill="#262626" textLength="15.9" lengthAdjust="spacingAndGlyphs">400</text>
<line x1="325.10" y1="490.10" x2="329.00" y2="490.10" stroke="#111111" stroke-width="1.5" stroke-linecap="butt"/>
<text x="321.60" y="493.50" font-size="9.9" text-anchor="end" fill="#262626" textLength="15.9" lengthAdjust="spacingAndGlyphs">200</text>
<line x1="325.10" y1="514.00" x2="329.00" y2="514.00" stroke="#111111" stroke-width="1.5" stroke-linecap="butt"/>
<text x="321.60" y="517.40" font-size="9.9" text-anchor="end" fill="#262626" textLength="5.3" lengthAdjust="spacingAndGlyphs">0</text>
<line x1="371.50" y1="514.00" x2="371.50" y2="517.70" stroke="#111111" stroke-width="1.5" stroke-linecap="butt"/>
<line x1="466.60" y1="514.00" x2="466.60" y2="517.70" stroke="#111111" stroke-width="1.5" stroke-linecap="butt"/>
<text x="294.00" y="479.19" font-size="11.3" text-anchor="start" fill="#262626" stroke="#262626" stroke-width="0.15" textLength="25.06" lengthAdjust="spacingAndGlyphs" transform="rotate(-90 294.00 479.19)">CXCL9</text>
<text x="294.00" y="452.10" font-size="11.3" text-anchor="start" fill="#262626" stroke="#262626" stroke-width="0.15" textLength="25.7" lengthAdjust="spacingAndGlyphs" transform="rotate(-90 294.00 452.10)">pg/mL</text>
<line x1="337.80" y1="512.50" x2="354.40" y2="512.50" stroke="#121212" stroke-width="1.6" stroke-linecap="butt"/>
<line x1="363.20" y1="511.60" x2="380.50" y2="511.60" stroke="#121212" stroke-width="1.6" stroke-linecap="butt"/>
<line x1="389.00" y1="508.40" x2="406.30" y2="508.40" stroke="#121212" stroke-width="1.6" stroke-linecap="butt"/>
<polygon points="339.80,511.60 342.40,509.40 349.80,509.40 352.40,511.60 349.80,513.80 342.40,513.80" fill="#b80a32" stroke="#7e1233" stroke-width="0.8" stroke-linejoin="round"/>
<circle cx="341.50" cy="507.40" r="2.12" fill="none" stroke="#7e1233" stroke-width="1.40"/>
<circle cx="350.90" cy="508.30" r="2.12" fill="none" stroke="#7e1233" stroke-width="1.40"/>
<circle cx="343.50" cy="510.20" r="2.12" fill="none" stroke="#7e1233" stroke-width="1.40"/>
<circle cx="348.50" cy="510.50" r="2.12" fill="none" stroke="#7e1233" stroke-width="1.40"/>
<circle cx="371.90" cy="503.50" r="2.05" fill="#2f4673" stroke="#16213c" stroke-width="0.9"/>
<circle cx="366.70" cy="507.90" r="2.05" fill="#2f4673" stroke="#16213c" stroke-width="0.9"/>
<circle cx="368.30" cy="509.50" r="2.05" fill="#2f4673" stroke="#16213c" stroke-width="0.9"/>
<circle cx="370.00" cy="511.00" r="2.05" fill="#2f4673" stroke="#16213c" stroke-width="0.9"/>
<circle cx="371.80" cy="511.80" r="2.05" fill="#2f4673" stroke="#16213c" stroke-width="0.9"/>
<circle cx="373.60" cy="511.00" r="2.05" fill="#2f4673" stroke="#16213c" stroke-width="0.9"/>
<circle cx="375.50" cy="509.30" r="2.05" fill="#2f4673" stroke="#16213c" stroke-width="0.9"/>
<circle cx="377.10" cy="507.40" r="2.05" fill="#2f4673" stroke="#16213c" stroke-width="0.9"/>
<circle cx="365.20" cy="510.30" r="2.05" fill="#2f4673" stroke="#16213c" stroke-width="0.9"/>
<circle cx="378.60" cy="510.30" r="2.05" fill="#2f4673" stroke="#16213c" stroke-width="0.9"/>
<circle cx="397.80" cy="499.50" r="2.05" fill="#67a044" stroke="#3f6a2c" stroke-width="0.8"/>
<circle cx="401.70" cy="503.90" r="2.05" fill="#67a044" stroke="#3f6a2c" stroke-width="0.8"/>
<circle cx="401.00" cy="506.30" r="2.05" fill="#67a044" stroke="#3f6a2c" stroke-width="0.8"/>
<circle cx="394.20" cy="508.60" r="2.05" fill="#67a044" stroke="#3f6a2c" stroke-width="0.8"/>
<circle cx="396.80" cy="508.80" r="2.05" fill="#67a044" stroke="#3f6a2c" stroke-width="0.8"/>
<circle cx="399.60" cy="508.30" r="2.05" fill="#67a044" stroke="#3f6a2c" stroke-width="0.8"/>
<circle cx="440.70" cy="462.50" r="2.12" fill="none" stroke="#7e1233" stroke-width="1.40"/>
<circle cx="444.50" cy="470.50" r="2.12" fill="none" stroke="#7e1233" stroke-width="1.40"/>
<circle cx="437.50" cy="475.80" r="2.12" fill="none" stroke="#7e1233" stroke-width="1.40"/>
<circle cx="440.70" cy="483.70" r="2.12" fill="none" stroke="#7e1233" stroke-width="1.40"/>
<circle cx="437.10" cy="495.90" r="2.12" fill="none" stroke="#7e1233" stroke-width="1.40"/>
<circle cx="444.30" cy="495.90" r="2.12" fill="none" stroke="#7e1233" stroke-width="1.40"/>
<line x1="432.20" y1="479.70" x2="449.60" y2="479.70" stroke="#111111" stroke-width="1.6" stroke-linecap="butt"/>
<circle cx="466.50" cy="475.40" r="2.05" fill="#2f4673" stroke="#16213c" stroke-width="0.9"/>
<circle cx="470.30" cy="492.30" r="2.05" fill="#2f4673" stroke="#16213c" stroke-width="0.9"/>
<circle cx="462.90" cy="496.40" r="2.05" fill="#2f4673" stroke="#16213c" stroke-width="0.9"/>
<line x1="458.20" y1="492.60" x2="475.60" y2="492.60" stroke="#111111" stroke-width="1.6" stroke-linecap="butt"/>
<circle cx="492.50" cy="418.30" r="2.05" fill="#67a044" stroke="#3f6a2c" stroke-width="0.8"/>
<circle cx="488.70" cy="453.00" r="2.05" fill="#67a044" stroke="#3f6a2c" stroke-width="0.8"/>
<circle cx="496.10" cy="460.00" r="2.05" fill="#67a044" stroke="#3f6a2c" stroke-width="0.8"/>
<circle cx="492.50" cy="480.70" r="2.05" fill="#67a044" stroke="#3f6a2c" stroke-width="0.8"/>
<line x1="484.00" y1="456.70" x2="501.40" y2="456.70" stroke="#111111" stroke-width="1.6" stroke-linecap="butt"/>
<line x1="441.70" y1="401.75" x2="490.40" y2="401.75" stroke="#111111" stroke-width="1.6" stroke-linecap="butt"/>
<polygon points="463.98,396.85 464.53,397.83 465.64,398.06 464.88,398.89 465.00,400.02 463.98,399.55 462.95,400.02 463.07,398.89 462.31,398.06 463.42,397.83" fill="#1a1a1a"/>
<polygon points="468.03,396.85 468.58,397.83 469.69,398.06 468.93,398.89 469.05,400.02 468.03,399.55 467.00,400.02 467.12,398.89 466.36,398.06 467.47,397.83" fill="#1a1a1a"/>
<line x1="466.50" y1="409.35" x2="490.40" y2="409.35" stroke="#111111" stroke-width="1.6" stroke-linecap="butt"/>
<polygon points="476.08,404.05 476.63,405.03 477.74,405.26 476.98,406.09 477.10,407.22 476.08,406.75 475.05,407.22 475.17,406.09 474.41,405.26 475.52,405.03" fill="#1a1a1a"/>
<polygon points="480.13,404.05 480.68,405.03 481.79,405.26 481.03,406.09 481.15,407.22 480.13,406.75 479.10,407.22 479.22,406.09 478.46,405.26 479.57,405.03" fill="#1a1a1a"/>
<line x1="328.90" y1="550.75" x2="328.90" y2="594.80" stroke="#111111" stroke-width="1.7" stroke-linecap="butt"/>
<line x1="328.90" y1="605.60" x2="328.90" y2="693.60" stroke="#111111" stroke-width="1.7" stroke-linecap="butt"/>
<line x1="328.05" y1="692.80" x2="506.50" y2="692.80" stroke="#111111" stroke-width="1.7" stroke-linecap="butt"/>
<line x1="325.00" y1="554.50" x2="328.90" y2="554.50" stroke="#111111" stroke-width="1.5" stroke-linecap="butt"/>
<text x="321.60" y="557.90" font-size="9.9" text-anchor="end" fill="#262626" textLength="21.2" lengthAdjust="spacingAndGlyphs">8000</text>
<line x1="325.00" y1="565.90" x2="328.90" y2="565.90" stroke="#111111" stroke-width="1.5" stroke-linecap="butt"/>
<text x="321.60" y="569.30" font-size="9.9" text-anchor="end" fill="#262626" textLength="21.2" lengthAdjust="spacingAndGlyphs">6000</text>
<line x1="325.00" y1="577.30" x2="328.90" y2="577.30" stroke="#111111" stroke-width="1.5" stroke-linecap="butt"/>
<text x="321.60" y="580.70" font-size="9.9" text-anchor="end" fill="#262626" textLength="21.2" lengthAdjust="spacingAndGlyphs">4000</text>
<line x1="325.00" y1="588.70" x2="328.90" y2="588.70" stroke="#111111" stroke-width="1.5" stroke-linecap="butt"/>
<text x="321.60" y="592.10" font-size="9.9" text-anchor="end" fill="#262626" textLength="21.2" lengthAdjust="spacingAndGlyphs">2000</text>
<line x1="325.00" y1="618.20" x2="328.90" y2="618.20" stroke="#111111" stroke-width="1.5" stroke-linecap="butt"/>
<text x="321.60" y="621.60" font-size="9.9" text-anchor="end" fill="#262626" textLength="15.9" lengthAdjust="spacingAndGlyphs">300</text>
<line x1="325.00" y1="643.10" x2="328.90" y2="643.10" stroke="#111111" stroke-width="1.5" stroke-linecap="butt"/>
<text x="321.60" y="646.50" font-size="9.9" text-anchor="end" fill="#262626" textLength="15.9" lengthAdjust="spacingAndGlyphs">200</text>
<line x1="325.00" y1="667.90" x2="328.90" y2="667.90" stroke="#111111" stroke-width="1.5" stroke-linecap="butt"/>
<text x="321.60" y="671.30" font-size="9.9" text-anchor="end" fill="#262626" textLength="15.9" lengthAdjust="spacingAndGlyphs">100</text>
<line x1="325.00" y1="692.80" x2="328.90" y2="692.80" stroke="#111111" stroke-width="1.5" stroke-linecap="butt"/>
<text x="321.60" y="696.20" font-size="9.9" text-anchor="end" fill="#262626" textLength="5.3" lengthAdjust="spacingAndGlyphs">0</text>
<line x1="371.30" y1="692.80" x2="371.30" y2="696.50" stroke="#111111" stroke-width="1.5" stroke-linecap="butt"/>
<line x1="464.10" y1="692.80" x2="464.10" y2="696.50" stroke="#111111" stroke-width="1.5" stroke-linecap="butt"/>
<text x="371.30" y="708.20" font-size="10.2" text-anchor="middle" fill="#262626" textLength="16.8" lengthAdjust="spacingAndGlyphs">PBS</text>
<text x="464.10" y="708.20" font-size="10.2" text-anchor="middle" fill="#262626" textLength="19.5" lengthAdjust="spacingAndGlyphs">CpG</text>
<text x="293.40" y="646.06" font-size="11.3" text-anchor="start" fill="#262626" stroke="#262626" stroke-width="0.15" textLength="15.41" lengthAdjust="spacingAndGlyphs" transform="rotate(-90 293.40 646.06)">IFNg</text>
<text x="293.40" y="627.41" font-size="11.3" text-anchor="start" fill="#262626" stroke="#262626" stroke-width="0.15" textLength="26.22" lengthAdjust="spacingAndGlyphs" transform="rotate(-90 293.40 627.41)">pg/mL</text>
<line x1="338.00" y1="690.80" x2="353.75" y2="690.80" stroke="#5a0a20" stroke-width="1.2" stroke-linecap="butt"/>
<line x1="362.90" y1="690.90" x2="379.70" y2="690.90" stroke="#15203f" stroke-width="1.2" stroke-linecap="butt"/>
<line x1="456.00" y1="690.90" x2="473.00" y2="690.90" stroke="#15203f" stroke-width="1.2" stroke-linecap="butt"/>
<line x1="325.20" y1="594.80" x2="332.80" y2="594.80" stroke="#111111" stroke-width="1.6" stroke-linecap="butt"/>
<line x1="325.20" y1="605.60" x2="332.80" y2="605.60" stroke="#111111" stroke-width="1.6" stroke-linecap="butt"/>
<polygon points="338.60,690.50 341.20,688.20 350.55,688.20 353.15,690.50 350.55,692.80 341.20,692.80" fill="#b80a32" stroke="#7e1233" stroke-width="0.8" stroke-linejoin="round"/>
<polygon points="363.50,690.60 366.10,688.30 376.50,688.30 379.10,690.60 376.50,692.90 366.10,692.90" fill="#2f4673" stroke="#16213c" stroke-width="0.8" stroke-linejoin="round"/>
<circle cx="393.00" cy="676.00" r="2.05" fill="#67a044" stroke="#3f6a2c" stroke-width="0.8"/>
<circle cx="400.20" cy="676.00" r="2.05" fill="#67a044" stroke="#3f6a2c" stroke-width="0.8"/>
<circle cx="391.50" cy="685.90" r="2.05" fill="#67a044" stroke="#3f6a2c" stroke-width="0.8"/>
<circle cx="397.10" cy="690.20" r="2.05" fill="#67a044" stroke="#3f6a2c" stroke-width="0.8"/>
<circle cx="401.30" cy="690.20" r="2.05" fill="#67a044" stroke="#3f6a2c" stroke-width="0.8"/>
<line x1="388.00" y1="686.20" x2="404.80" y2="686.20" stroke="#111111" stroke-width="1.6" stroke-linecap="butt"/>
<circle cx="439.00" cy="658.50" r="2.12" fill="none" stroke="#7e1233" stroke-width="1.40"/>
<circle cx="435.60" cy="675.40" r="2.12" fill="none" stroke="#7e1233" stroke-width="1.40"/>
<circle cx="442.30" cy="675.40" r="2.12" fill="none" stroke="#7e1233" stroke-width="1.40"/>
<circle cx="434.50" cy="687.70" r="2.12" fill="none" stroke="#7e1233" stroke-width="1.40"/>
<circle cx="439.00" cy="690.30" r="2.12" fill="none" stroke="#7e1233" stroke-width="1.40"/>
<circle cx="443.90" cy="689.70" r="2.12" fill="none" stroke="#7e1233" stroke-width="1.40"/>
<line x1="430.50" y1="681.90" x2="447.40" y2="681.90" stroke="#111111" stroke-width="1.6" stroke-linecap="butt"/>
<circle cx="458.70" cy="690.40" r="2.05" fill="#2f4673" stroke="#16213c" stroke-width="0.9"/>
<circle cx="461.20" cy="690.60" r="2.05" fill="#2f4673" stroke="#16213c" stroke-width="0.9"/>
<circle cx="463.80" cy="690.40" r="2.05" fill="#2f4673" stroke="#16213c" stroke-width="0.9"/>
<circle cx="466.50" cy="690.60" r="2.05" fill="#2f4673" stroke="#16213c" stroke-width="0.9"/>
<circle cx="469.30" cy="690.40" r="2.05" fill="#2f4673" stroke="#16213c" stroke-width="0.9"/>
<circle cx="490.00" cy="560.00" r="2.05" fill="#67a044" stroke="#3f6a2c" stroke-width="0.8"/>
<circle cx="489.70" cy="575.00" r="2.05" fill="#67a044" stroke="#3f6a2c" stroke-width="0.8"/>
<circle cx="489.70" cy="593.90" r="2.05" fill="#67a044" stroke="#3f6a2c" stroke-width="0.8"/>
<circle cx="489.70" cy="612.40" r="2.05" fill="#67a044" stroke="#3f6a2c" stroke-width="0.8"/>
<line x1="481.30" y1="585.10" x2="498.60" y2="585.10" stroke="#111111" stroke-width="1.6" stroke-linecap="butt"/>
<line x1="444.90" y1="545.85" x2="493.50" y2="545.85" stroke="#111111" stroke-width="1.6" stroke-linecap="butt"/>
<polygon points="467.68,539.75 468.23,540.73 469.34,540.96 468.58,541.79 468.70,542.92 467.68,542.45 466.65,542.92 466.77,541.79 466.01,540.96 467.12,540.73" fill="#1a1a1a"/>
<polygon points="471.73,539.75 472.28,540.73 473.39,540.96 472.63,541.79 472.75,542.92 471.73,542.45 470.70,542.92 470.82,541.79 470.06,540.96 471.17,540.73" fill="#1a1a1a"/>
<line x1="464.20" y1="554.65" x2="488.50" y2="554.65" stroke="#111111" stroke-width="1.6" stroke-linecap="butt"/>
<polygon points="472.45,548.55 473.01,549.53 474.11,549.76 473.35,550.59 473.48,551.72 472.45,551.25 471.42,551.72 471.55,550.59 470.79,549.76 471.89,549.53" fill="#1a1a1a"/>
<polygon points="476.50,548.55 477.06,549.53 478.16,549.76 477.40,550.59 477.53,551.72 476.50,551.25 475.47,551.72 475.60,550.59 474.84,549.76 475.94,549.53" fill="#1a1a1a"/>
<polygon points="480.55,548.55 481.11,549.53 482.21,549.76 481.45,550.59 481.58,551.72 480.55,551.25 479.52,551.72 479.65,550.59 478.89,549.76 479.99,549.53" fill="#1a1a1a"/>
<text x="8.20" y="37.00" font-size="13.6" text-anchor="start" fill="#000" font-weight="bold" textLength="10.3" lengthAdjust="spacingAndGlyphs">A</text>
<text x="8.60" y="208.20" font-size="13.4" text-anchor="start" fill="#000" font-weight="bold" textLength="8.9" lengthAdjust="spacingAndGlyphs">B</text>
<text x="275.30" y="208.40" font-size="13.8" text-anchor="start" fill="#000" font-weight="bold" textLength="10.0" lengthAdjust="spacingAndGlyphs">C</text>
<circle cx="221" cy="12.9" r="2.9" fill="none" stroke="#7e1233" stroke-width="1.5"/>
<text x="227.30" y="16.00" font-size="10" text-anchor="start" fill="#262626" textLength="14.0" lengthAdjust="spacingAndGlyphs">WT</text>
<circle cx="255.1" cy="12.8" r="3.0" fill="#2f4673" stroke="#16213c" stroke-width="0.7"/>
<text x="262.00" y="16.00" font-size="10" text-anchor="start" fill="#262626" textLength="56.2" lengthAdjust="spacingAndGlyphs">NLRC4-T337S</text>
<circle cx="331.2" cy="12.8" r="3.0" fill="#67a044" stroke="#3f6a2c" stroke-width="0.7"/>
<text x="338.90" y="16.00" font-size="10" text-anchor="start" fill="#262626" textLength="23.6" lengthAdjust="spacingAndGlyphs">Il18tg</text>
<rect x="0.75" y="0.75" width="518.5" height="717.5" fill="none" stroke="#000" stroke-width="1.5"/>
</svg></body></html>
